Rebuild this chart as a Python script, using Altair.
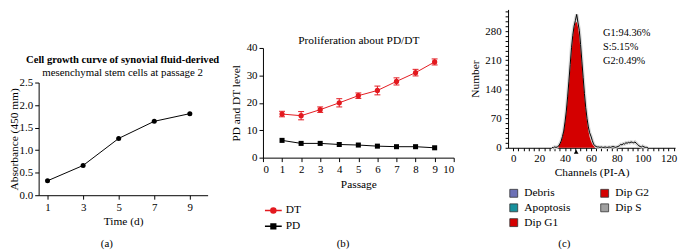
import altair as alt
import pandas as pd

# ---------------- data ----------------
# (a) cell growth curve
time_days = [1, 3, 5, 7, 9]
absorbance = [0.32, 0.66, 1.26, 1.64, 1.81]
a_title_1 = "Cell growth curve of synovial fluid-derived"
a_title_2 = "mesenchymal stem cells at passage 2"

# (b) proliferation PD / DT
passages = [1, 2, 3, 4, 5, 6, 7, 8, 9]
dt_level = [15.9, 15.3, 17.5, 20.0, 22.6, 24.5, 27.8, 31.0, 34.9]
dt_error = [1.0, 1.5, 1.0, 1.5, 1.0, 1.6, 1.3, 1.2, 1.1]
pd_level = [6.3, 5.2, 5.2, 4.8, 4.6, 4.2, 4.0, 4.0, 3.6]
b_title = "Proliferation about PD/DT"

# (c) cell cycle histogram
hist_channels = list(range(30, 105))
hist_counts = [1, 0, 2, 1, 2, 4,
               9, 16, 27, 40, 62, 88, 122, 160, 200, 240,
               270, 292, 305, 320, 300, 282, 248, 208, 168, 130,
               96, 70, 50, 36, 28, 18, 9, 5, 3, 2,
               2, 1, 2, 1, 1, 2, 1, 1, 2, 1,
               2, 3, 2, 1, 2, 3, 5, 8, 7, 10,
               9, 12, 11, 13, 12, 14, 13, 12, 14, 11,
               8, 5, 3, 2, 4, 2, 1, 1, 0]
g1_channels = list(range(35, 64))
g1_fit = [4, 8, 14, 24, 38, 57, 82, 113, 149, 188,
          227, 261, 287, 300, 302, 290, 266, 234, 196, 157,
          120, 88, 62, 41, 26, 16, 9, 5, 2]
g1_mean_channel = [48.6]
phase_names = ["Debris", "Apoptosis", "Dip G1", "Dip G2", "Dip S"]
phase_colors = ["#6d71b6", "#17909c", "#d40000", "#d40000", "#a0a0a0"]
phase_stats = ["G1:94.36%", "S:5.15%", "G2:0.49%"]

panel_labels = ["(a)", "(b)", "(c)"]

# ---------------- style ----------------
FONT = "Liberation Serif"
RED = "#e3191f"
W, H = 682, 242
LEG_CIRCLE = "M-1,0H1M-0.3,0A0.3,0.3,0,1,1,0.3,0A0.3,0.3,0,1,1,-0.3,0Z"
LEG_SQUARE = "M-1,0H1M-0.28,-0.28H0.28V0.28H-0.28Z"

def txt(s, x, y, size=11, weight="normal", align="center", lh=None):
    kw = dict(font=FONT, fontSize=size, fontWeight=weight, align=align,
              baseline="middle", color="black")
    if lh:
        kw.update(lineBreak="\n", lineHeight=lh, baseline="top")
    return alt.Chart(pd.DataFrame({"t": [s]})).mark_text(**kw).encode(
        x=alt.value(x), y=alt.value(y), text="t:N")

# ---------------- panel (a) ----------------
dfa = pd.DataFrame({"time": time_days, "abs": absorbance})
xa = alt.X("time:Q",
           scale=alt.Scale(domain=[0.5, 10], range=[31, 202], nice=False, zero=False),
           axis=alt.Axis(orient="bottom", offset=-54, values=time_days, title="Time (d)",
                         labelPadding=2, titlePadding=4))
ya = alt.Y("abs:Q",
           scale=alt.Scale(domain=[0, 2.5], range=[188, 74], nice=False, zero=False),
           axis=alt.Axis(orient="left", offset=-31, values=[0, 0.5, 1.0, 1.5, 2.0, 2.5],
                         format=".1f", title="Absorbance (450 mm)",
                         labelPadding=2, titlePadding=0))
baseA = alt.Chart(dfa).encode(x=xa, y=ya)
panelA = alt.layer(
    baseA.mark_line(color="black", strokeWidth=1),
    baseA.mark_point(filled=True, color="black", size=26, opacity=1),
)

# ---------------- panel (b) ----------------
dfb = pd.DataFrame({
    "passage": passages * 2,
    "level": dt_level + pd_level,
    "series": ["DT"] * len(passages) + ["PD"] * len(passages),
})
dfdt = pd.DataFrame({
    "passage": passages,
    "lo": [m - e for m, e in zip(dt_level, dt_error)],
    "hi": [m + e for m, e in zip(dt_level, dt_error)],
})
scXb = alt.Scale(domain=[0, 10], range=[258, 451], nice=False, zero=False)
scYb = alt.Scale(domain=[0, 40], range=[150, 39], nice=False, zero=False)
axXb = alt.Axis(orient="bottom", offset=-92, values=list(range(0, 11)), title="Passage",
                labelPadding=2, titlePadding=4)
axYb = alt.Axis(orient="left", offset=-258, values=[0, 10, 20, 30, 40],
                title="PD and DT level", labelPadding=2, titlePadding=5)
xb = alt.X("passage:Q", scale=scXb, axis=axXb)
yb = alt.Y("level:Q", scale=scYb, axis=axYb)
col_b = alt.Color("series:N", scale=alt.Scale(domain=["DT", "PD"], range=[RED, "black"]), legend=None)

lineB = alt.Chart(dfb).mark_line(strokeWidth=1).encode(x=xb, y=yb, color=col_b)
ptsDT = alt.Chart(dfb).transform_filter("datum.series == 'DT'").mark_point(
    shape="circle", filled=True, size=28, color=RED, opacity=1).encode(x=xb, y=yb)
ptsPD = alt.Chart(dfb).transform_filter("datum.series == 'PD'").mark_point(
    shape="square", filled=True, size=26, color="black", opacity=1).encode(x=xb, y=yb)
leg_b = alt.Legend(orient="none", legendX=259, legendY=194, title=None, labelFont=FONT,
                   labelFontSize=11.5, labelColor="black", rowPadding=-3, labelOffset=3,
                   symbolSize=289)
legB = alt.Chart(dfb).mark_point(filled=True, size=0, opacity=1, strokeWidth=1.1).encode(
    x=xb, y=yb,
    fill=alt.Fill("series:N", scale=alt.Scale(range=[RED, "black"]), legend=leg_b),
    stroke=alt.Stroke("series:N", scale=alt.Scale(range=[RED, "black"]), legend=leg_b),
    shape=alt.Shape("series:N", scale=alt.Scale(range=[LEG_CIRCLE, LEG_SQUARE]), legend=leg_b),
)
errB = alt.Chart(dfdt).mark_rule(color=RED, strokeWidth=1).encode(
    x=xb, y=alt.Y("lo:Q", scale=scYb, axis=axYb), y2="hi:Q")
capLo = alt.Chart(dfdt).mark_point(shape="stroke", size=36, color=RED, strokeWidth=1, opacity=1).encode(
    x=xb, y=alt.Y("lo:Q", scale=scYb, axis=axYb))
capHi = alt.Chart(dfdt).mark_point(shape="stroke", size=36, color=RED, strokeWidth=1, opacity=1).encode(
    x=xb, y=alt.Y("hi:Q", scale=scYb, axis=axYb))
panelB = alt.layer(errB, capLo, capHi, lineB, ptsDT, ptsPD, legB)

# ---------------- panel (c) ----------------
dfh = pd.DataFrame({"channel": hist_channels, "count": hist_counts})
dfg = pd.DataFrame({"channel": g1_channels, "count": g1_fit, "phase": ["Dip G1"] * len(g1_channels)})
dfm = pd.DataFrame({"channel": g1_mean_channel})
x_ticks_c = list(range(0, 125, 4))
y_ticks_c = [round(i * 70 / 6, 4) for i in range(0, 29)]
scXc = alt.Scale(domain=[-4, 125], range=[506, 675], nice=False, zero=False)
scYc = alt.Scale(domain=[0, 332], range=[140, 0], nice=False, zero=False)
axXc = alt.Axis(orient="bottom", offset=-102, values=x_ticks_c, tickSize=3,
                labelExpr="datum.value % 20 === 0 ? datum.label : ''",
                title="Channels (PI-A)", labelPadding=2, titlePadding=3)
axYc = alt.Axis(orient="left", offset=-506, values=y_ticks_c, tickSize=3,
                labelExpr="abs(datum.value / 70 - round(datum.value / 70)) < 0.001 ? format(datum.value, 'd') : ''",
                title="Number", labelPadding=4, titlePadding=4)
xc = alt.X("channel:Q", scale=scXc, axis=axXc)
yc = alt.Y("count:Q", scale=scYc, axis=axYc)
haloC = alt.Chart(dfh).mark_line(color="#dadada", strokeWidth=3.5).encode(x=xc, y=yc)
areaC = alt.Chart(dfg).mark_area(opacity=1).encode(
    x=xc, y=yc,
    fill=alt.Fill("phase:N", scale=alt.Scale(domain=phase_names, range=phase_colors),
                  legend=alt.Legend(orient="none", legendX=506, legendY=180, columns=2,
                                    title=None, symbolType="square", symbolSize=64,
                                    symbolStrokeColor="#333333", symbolStrokeWidth=0.8,
                                    labelFont=FONT, labelFontSize=11.5, labelColor="black",
                                    labelOffset=5, columnPadding=28, rowPadding=2)),
)
outlineC = alt.Chart(dfh).mark_line(color="black", strokeWidth=1).encode(x=xc, y=yc)
triC = alt.Chart(dfm).mark_point(shape="triangle-up", filled=True, color="black", size=22, opacity=1).encode(
    x=alt.X("channel:Q", scale=scXc, axis=axXc), y=alt.value(144))
panelC = alt.layer(haloC, areaC, outlineC, triC)

# ---------------- assemble ----------------
chart = alt.layer(
    panelA,
    txt(a_title_1, 116, 51, size=10.7, weight="bold"),
    txt(a_title_2, 116, 64.5, size=11),
    txt(panel_labels[0], 100, 237),
    panelB,
    txt(b_title, 355, 32, size=11.5),
    txt(panel_labels[1], 339, 237),
    panelC,
    txt("\n".join(phase_stats), 602, 19, size=10.5, align="left", lh=14),
    txt(panel_labels[2], 563, 237),
).resolve_scale(
    x="independent", y="independent", fill="independent", color="independent",
    stroke="independent", shape="independent",
).properties(
    width=W, height=H, padding=0, autosize=alt.AutoSizeParams(type="none"),
).configure_view(strokeWidth=0).configure_axis(
    grid=False, labelFont=FONT, titleFont=FONT, labelFontSize=11, titleFontSize=11.5,
    titleFontWeight="normal", labelColor="black", titleColor="black",
    domainColor="black", tickColor="black", domainWidth=1, tickWidth=1, tickSize=4,
)

chart.save("out.html", embed_options={"renderer": "svg", "actions": False})
